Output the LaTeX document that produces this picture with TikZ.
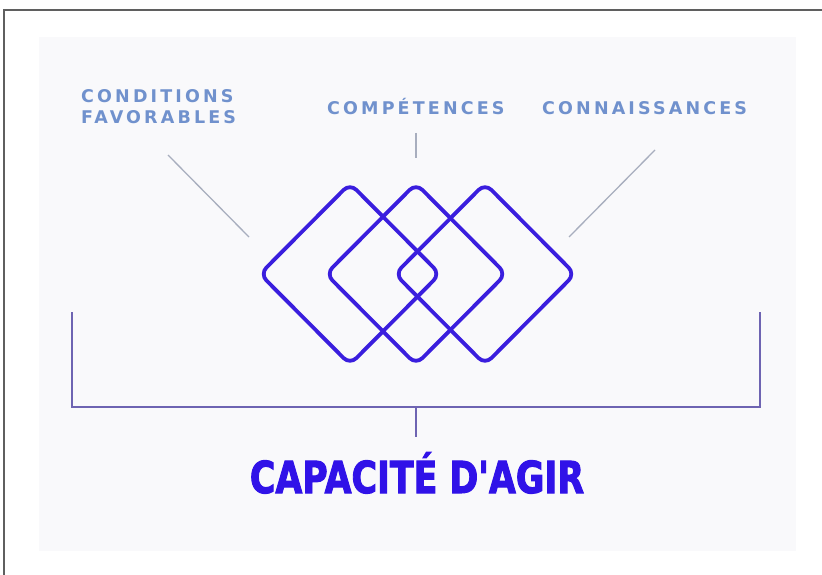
\documentclass[tikz,border=0pt]{standalone}
\usepackage{fontspec}
\usepackage{graphicx}
\usetikzlibrary{shapes.geometric}
\newfontfamily\labelfont[LetterSpace=18]{DejaVu Sans}
\newfontfamily\titlefont[BoldFeatures={FakeBold=2.5}]{DejaVu Sans}
\definecolor{diablue}{RGB}{58,30,222}
\definecolor{lbl}{RGB}{112,145,205}
\definecolor{leader}{RGB}{168,174,190}
\definecolor{brk}{RGB}{110,100,178}
\definecolor{titleblue}{RGB}{48,18,232}
\definecolor{panel}{RGB}{249,249,251}
\definecolor{frame}{RGB}{95,95,95}
\tikzset{
  dia/.style={diamond, draw=diablue, line width=3.8pt, minimum width=180pt, minimum height=181pt, inner sep=0pt, outer sep=0pt, rounded corners=9pt},
  lab/.style={text=lbl, font=\labelfont\bfseries\fontsize{17.5}{21}\selectfont, inner sep=0pt, align=left},
  leadline/.style={draw=leader, line width=1.3pt},
  bracketline/.style={draw=brk, line width=2pt},
}
\begin{document}
\begin{tikzpicture}[x=1pt,y=-1pt]
\useasboundingbox (0,0) rectangle (822,575);
\fill[white] (0,0) rectangle (822,575);
\draw[frame, line width=2pt] (4,600) -- (4,10) -- (830,10);
\fill[panel] (39,37) rectangle (796,551);
% labels
\node[lab, anchor=north west] (cf) at (81,89) {CONDITIONS\\FAVORABLES};
\node[lab, anchor=base west] (cp) at (327,115) {COMPÉTENCES};
\node[lab, anchor=base west] (cn) at (542,115) {CONNAISSANCES};
% diamonds
\node[dia] (dl) at (350,274) {};
\node[dia] (dm) at (416,274) {};
\node[dia] (dr) at (485,274) {};
% leader lines
\coordinate (l1a) at (168,155); \coordinate (l1b) at (249,237);
\coordinate (l2a) at (416,133); \coordinate (l2b) at (416,158);
\coordinate (l3a) at (655,150); \coordinate (l3b) at (569,237);
\draw[leadline] (l1a) -- (l1b);
\draw[leadline] (l2a) -- (l2b);
\draw[leadline] (l3a) -- (l3b);
% bracket
\coordinate (bl) at (72,312); \coordinate (blc) at (72,407);
\coordinate (br) at (760,312); \coordinate (brc) at (760,407);
\coordinate (bm) at (416,407); \coordinate (bme) at (416,437);
\draw[bracketline] (bl) -- (blc) -- (brc) -- (br);
\draw[bracketline] (bm) -- (bme);
% title
\node[text=titleblue, inner sep=0pt, anchor=base] (title) at (417,493) {\scalebox{0.79}[1]{\titlefont\bfseries\fontsize{44}{44}\selectfont CAPACITÉ D'AGIR}};
\end{tikzpicture}
\end{document}
